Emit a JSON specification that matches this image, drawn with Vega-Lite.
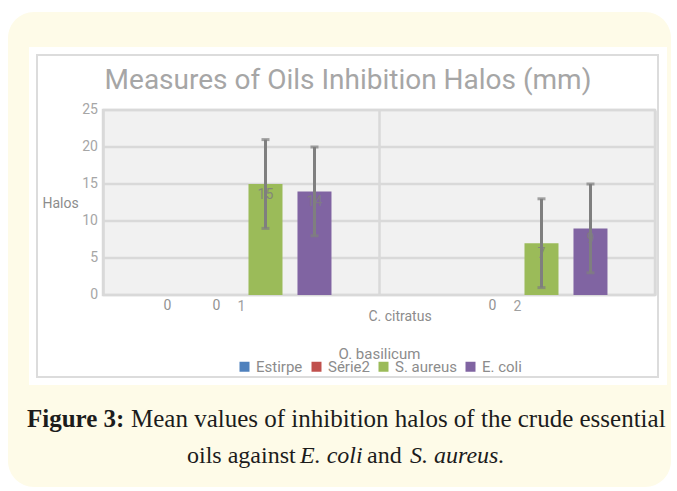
{
  "$schema": "https://vega.github.io/schema/vega-lite/v6.json",
  "width": 552,
  "height": 185,
  "autosize": {"type": "none"},
  "padding": {"left": 103, "top": 110, "right": 22, "bottom": 196},
  "background": "white",
  "config": {"view": {"stroke": null}, "font": "Roboto"},
  "datasets": {
    "bars": [
      {"grp": "1", "series": "Estirpe", "value": 0, "label": "0"},
      {"grp": "1", "series": "Série2", "value": 0, "label": "0"},
      {"grp": "1", "series": "S. aureus", "value": 15, "lo": 9, "hi": 21, "label": "15"},
      {"grp": "1", "series": "E. coli", "value": 14, "lo": 8, "hi": 20, "label": "14"},
      {"grp": "2", "series": "Estirpe", "value": 0, "label": ""},
      {"grp": "2", "series": "Série2", "value": 0, "label": "0"},
      {"grp": "2", "series": "S. aureus", "value": 7, "lo": 1, "hi": 13, "label": "7"},
      {"grp": "2", "series": "E. coli", "value": 9, "lo": 3, "hi": 15, "label": "9"}
    ],
    "ticks": [{"value": 0}, {"value": 5}, {"value": 10}, {"value": 15}, {"value": 20}, {"value": 25}],
    "one": [{}],
    "title": [{"t": "Measures of Oils Inhibition Halos (mm)"}],
    "cat": [{"t": "C. citratus"}],
    "cap1a": [{"t": "Figure 3:"}],
    "cap1b": [{"t": "Mean values of inhibition halos of the crude essential"}],
    "cap2a": [{"t": "oils against"}],
    "cap2b": [{"t": "E. coli"}],
    "cap2c": [{"t": "and"}],
    "cap2d": [{"t": "S. aureus."}]
  },
  "layer": [
    {
      "data": {"name": "one"},
      "mark": {"type": "rect", "fill": "#fefbe8", "cornerRadius": 26},
      "encoding": {"x": {"value": -95}, "x2": {"value": 568}, "y": {"value": -98}, "y2": {"value": 377}}
    },
    {
      "data": {"name": "one"},
      "mark": {"type": "rect", "fill": "white"},
      "encoding": {"x": {"value": -74}, "x2": {"value": 564}, "y": {"value": -63}, "y2": {"value": 275}}
    },
    {
      "data": {"name": "one"},
      "mark": {"type": "rect", "fill": null, "stroke": "#dcdcdc", "strokeWidth": 2},
      "encoding": {"x": {"value": -66}, "x2": {"value": 555}, "y": {"value": -55}, "y2": {"value": 267}}
    },
    {
      "data": {"name": "one"},
      "mark": {"type": "rect", "fill": "#f1f1f1", "stroke": "#d9d9d9", "strokeWidth": 2.5},
      "encoding": {"x": {"value": 0}, "x2": {"value": 552}, "y": {"value": 0}, "y2": {"value": 185}}
    },
    {
      "data": {"name": "ticks"},
      "mark": {"type": "rule", "color": "#d9d9d9", "strokeWidth": 2.5},
      "encoding": {
        "y": {
          "field": "value", "type": "quantitative",
          "scale": {"domain": [0, 25], "nice": false},
          "axis": {
            "title": "Halos", "titleAngle": 0, "titleX": -43, "titleY": 93, "titleAlign": "center",
            "titleBaseline": "middle", "titleFontSize": 14, "titleFontWeight": "normal", "titleColor": "#8c8c8c",
            "labels": false, "domain": false, "ticks": false, "grid": false, "zindex": 1
          }
        }
      }
    },
    {
      "data": {"name": "ticks"},
      "mark": {"type": "text", "align": "right", "baseline": "middle", "dx": -5, "fontSize": 14, "fill": "#a6a6a6"},
      "encoding": {
        "x": {"value": 0},
        "y": {"field": "value", "type": "quantitative"},
        "text": {"field": "value", "type": "quantitative"}
      }
    },
    {
      "data": {"name": "bars"},
      "mark": {"type": "bar"},
      "encoding": {
        "x": {
          "field": "grp", "type": "nominal",
          "scale": {"domain": ["1", "2"], "paddingInner": 0, "paddingOuter": 0},
          "axis": {
            "title": "O. basilicum", "titleY": 58, "titleBaseline": "middle", "titleFontSize": 15,
            "titleFontWeight": "normal", "titleColor": "#8c8c8c",
            "labelAngle": 0, "labelFontSize": 14, "labelColor": "#a0a0a0", "labelPadding": 4,
            "domain": false, "ticks": false, "grid": true, "gridColor": "#d9d9d9", "gridWidth": 2.5,
            "tickBand": "extent", "zindex": 1
          }
        },
        "xOffset": {
          "field": "series", "type": "nominal",
          "scale": {"domain": ["Estirpe", "Série2", "S. aureus", "E. coli"], "paddingInner": 0.306, "paddingOuter": 0.97}
        },
        "y": {"field": "value", "type": "quantitative"},
        "color": {
          "field": "series", "type": "nominal",
          "scale": {"domain": ["Estirpe", "Série2", "S. aureus", "E. coli"], "range": ["#4f81bd", "#c0504d", "#9bbb59", "#8064a2"]},
          "legend": {
            "orient": "none", "legendX": 134, "legendY": 249, "direction": "horizontal", "title": null,
            "symbolType": "square", "symbolSize": 100, "symbolStrokeWidth": 0, "labelFontSize": 15,
            "labelColor": "#8c8c8c", "labelOffset": 4, "columnPadding": 6, "zindex": 1
          }
        }
      }
    },
    {
      "data": {"name": "bars"},
      "mark": {"type": "text", "dy": 11, "baseline": "middle", "fontSize": 14, "fill": "#7f7f7f", "opacity": 0.85},
      "encoding": {
        "x": {"field": "grp", "type": "nominal"},
        "xOffset": {"field": "series", "type": "nominal"},
        "y": {"field": "value", "type": "quantitative"},
        "text": {"field": "label"}
      }
    },
    {
      "data": {"name": "bars"},
      "transform": [{"filter": "datum.hi != null"}],
      "mark": {"type": "rule", "color": "#7f7f7f", "strokeWidth": 3},
      "encoding": {
        "x": {"field": "grp", "type": "nominal"},
        "xOffset": {"field": "series", "type": "nominal"},
        "y": {"field": "lo", "type": "quantitative"},
        "y2": {"field": "hi"}
      }
    },
    {
      "data": {"name": "bars"},
      "transform": [{"filter": "datum.hi != null"}],
      "mark": {"type": "tick", "color": "#7f7f7f", "size": 8, "thickness": 3, "orient": "horizontal"},
      "encoding": {
        "x": {"field": "grp", "type": "nominal"},
        "xOffset": {"field": "series", "type": "nominal"},
        "y": {"field": "hi", "type": "quantitative"}
      }
    },
    {
      "data": {"name": "bars"},
      "transform": [{"filter": "datum.hi != null"}],
      "mark": {"type": "tick", "color": "#7f7f7f", "size": 8, "thickness": 3, "orient": "horizontal"},
      "encoding": {
        "x": {"field": "grp", "type": "nominal"},
        "xOffset": {"field": "series", "type": "nominal"},
        "y": {"field": "lo", "type": "quantitative"}
      }
    },
    {
      "data": {"name": "title"},
      "mark": {"type": "text", "align": "center", "baseline": "middle", "fontSize": 28, "fill": "#a6a6a6"},
      "encoding": {"x": {"value": 245}, "y": {"value": -29}, "text": {"field": "t"}}
    },
    {
      "data": {"name": "cat"},
      "mark": {"type": "text", "align": "center", "baseline": "middle", "fontSize": 14, "fill": "#8c8c8c"},
      "encoding": {"x": {"value": 297}, "y": {"value": 207}, "text": {"field": "t"}}
    },
    {
      "data": {"name": "cap1a"},
      "mark": {"type": "text", "align": "left", "baseline": "alphabetic", "font": "Liberation Serif", "fontSize": 25, "fontWeight": "bold", "fill": "#1c1c1c"},
      "encoding": {"x": {"value": -76}, "y": {"value": 317}, "text": {"field": "t"}}
    },
    {
      "data": {"name": "cap1b"},
      "mark": {"type": "text", "align": "left", "baseline": "alphabetic", "font": "Liberation Serif", "fontSize": 25, "fill": "#1c1c1c"},
      "encoding": {"x": {"value": 28}, "y": {"value": 317}, "text": {"field": "t"}}
    },
    {
      "data": {"name": "cap2a"},
      "mark": {"type": "text", "align": "left", "baseline": "alphabetic", "font": "Liberation Serif", "fontSize": 24, "fill": "#1c1c1c"},
      "encoding": {"x": {"value": 84}, "y": {"value": 353}, "text": {"field": "t"}}
    },
    {
      "data": {"name": "cap2b"},
      "mark": {"type": "text", "align": "left", "baseline": "alphabetic", "font": "Liberation Serif", "fontSize": 24, "fontStyle": "italic", "fill": "#1c1c1c"},
      "encoding": {"x": {"value": 197}, "y": {"value": 353}, "text": {"field": "t"}}
    },
    {
      "data": {"name": "cap2c"},
      "mark": {"type": "text", "align": "left", "baseline": "alphabetic", "font": "Liberation Serif", "fontSize": 24, "fill": "#1c1c1c"},
      "encoding": {"x": {"value": 264}, "y": {"value": 353}, "text": {"field": "t"}}
    },
    {
      "data": {"name": "cap2d"},
      "mark": {"type": "text", "align": "left", "baseline": "alphabetic", "font": "Liberation Serif", "fontSize": 24, "fontStyle": "italic", "fill": "#1c1c1c"},
      "encoding": {"x": {"value": 307}, "y": {"value": 353}, "text": {"field": "t"}}
    }
  ]
}
